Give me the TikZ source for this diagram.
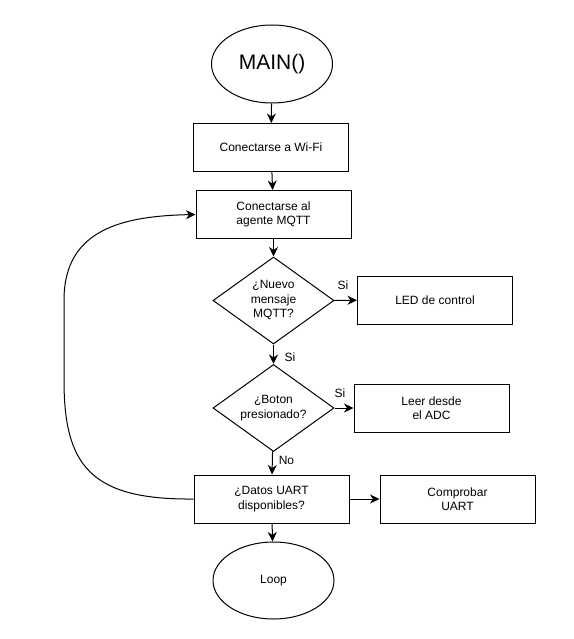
\documentclass[tikz,border=0pt]{standalone}
\usepackage{fontspec}
\setmainfont{Liberation Sans}
\usetikzlibrary{positioning,shapes.geometric,arrows.meta}

\begin{document}
\begin{tikzpicture}[x=1pt,y=-1pt,
	caja/.style={draw, line width=1pt, minimum width=155pt, minimum height=48pt, inner sep=2pt, align=center, font=\fontsize{12}{14.5}\selectfont},
	rombo/.style={draw, diamond, line width=1pt, minimum width=121pt, minimum height=87pt, aspect=1.39, inner sep=0pt, align=center, font=\fontsize{12}{14.5}\selectfont},
	elipse/.style={draw, ellipse, line width=1pt, minimum width=121pt, minimum height=78pt, inner sep=0pt, align=center},
	flecha/.style={line width=1pt, -{Stealth[length=9.5pt,width=9pt,inset=3pt]}},
	etiqueta/.style={inner sep=0pt, font=\fontsize{12}{14.5}\selectfont}]
				\useasboundingbox (0,0) rectangle (573,639);
				\node[elipse, font=\fontsize{21}{25}\selectfont] (main) at (272, 64) {MAIN()};
				\node[caja] (wifi) at (271, 147.5) {Conectarse a Wi-Fi};
				\node[caja] (mqtt) at (273.5, 214.5) {Conectarse al\\agente MQTT};
				\node[rombo] (nuevo) at (273.5, 300.5) {¿Nuevo\\mensaje\\MQTT?};
				\node[caja] (led) at (435, 300) {LED de control};
				\node[rombo] (boton) at (273.5, 408) {¿Boton\\presionado?};
				\node[caja] (adc) at (431.5, 408) {Leer desde\\el ADC};
				\node[caja] (uart) at (271.5, 499) {¿Datos UART\\disponibles?};
				\node[caja] (comp) at (457.5, 499) {Comprobar\\UART};
				\node[elipse, minimum height=77pt, font=\fontsize{12}{14.5}\selectfont] (loop) at (273.5, 580.5) {Loop};
				\node[etiqueta] (si1) at (343, 285) {Si};
				\node[etiqueta] (si2) at (290, 357) {Si};
				\node[etiqueta] (si3) at (340, 393.5) {Si};
				\node[etiqueta] (no) at (286.5, 460) {No};
				\draw[flecha] (main) -- (wifi);
				\draw[flecha] (wifi) -- (mqtt);
				\draw[flecha] (mqtt) -- (nuevo);
				\draw[flecha] (nuevo) -- (led);
				\draw[flecha] (nuevo) -- (boton);
				\draw[flecha] (boton) -- (adc);
				\draw[flecha] (boton) -- (uart);
				\draw[flecha] (uart) -- (comp);
				\draw[flecha] (uart) -- (loop);
				\draw[flecha] (uart.west) .. controls (90,500) and (64,465) .. (64,380) -- (64,300) .. controls (64,228) and (125,216) .. (mqtt.west);
\end{tikzpicture}
\end{document}
